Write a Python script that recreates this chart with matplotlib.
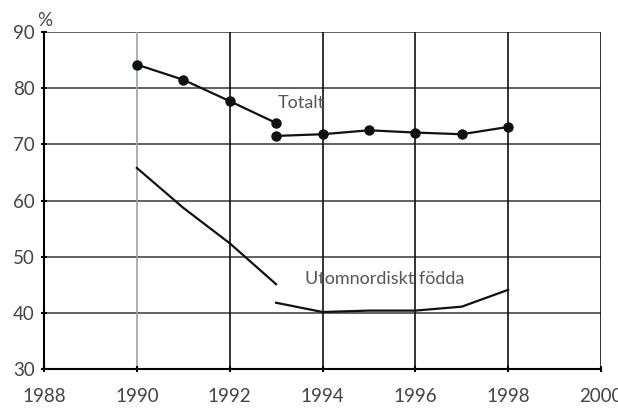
import numpy as np
import matplotlib.pyplot as plt

# data (series break at 1993)
years_a = [1990, 1991, 1992, 1993]
years_b = [1993, 1994, 1995, 1996, 1997, 1998]
totalt_a = [84.2, 81.5, 77.7, 73.8]
totalt_b = [71.5, 71.8, 72.5, 72.1, 71.8, 73.1]
utom_a = [65.8, 58.7, 52.4, 45.1]
utom_b = [41.8, 40.15, 40.4, 40.4, 41.1, 44.1]
xticks = [1988, 1990, 1992, 1994, 1996, 1998, 2000]
yticks = [30, 40, 50, 60, 70, 80, 90]

plt.rcParams['font.family'] = ['Lato', 'DejaVu Sans']
txt = '#444444'

fig = plt.figure(figsize=(6.18, 4.13), dpi=100)
ax = fig.add_axes([0.0712, 0.1065, 0.9013, 0.816])

ax.set_xlim(1988, 2000)
ax.set_ylim(30, 90)
ax.set_xticks(xticks)
ax.set_yticks(yticks)
ax.tick_params(labelsize=13.5, labelcolor=txt, length=5, width=1.5, direction='inout', pad=11)
ax.tick_params(axis='y', pad=4)

# grid
for y in yticks[1:]:
    ax.axhline(y, color='#555555', lw=1.3, zorder=1)
for x in xticks[1:]:
    c = '#9aa2b0' if x == 1990 else '#111111'
    ax.axvline(x, color=c, lw=1.2, zorder=1)

for s in ['top', 'right']:
    ax.spines[s].set_visible(False)
ax.spines['left'].set_linewidth(1.5)
ax.spines['bottom'].set_linewidth(1.5)

ax.plot(years_a, totalt_a, color='#111111', lw=1.6, marker='o', ms=6.5, zorder=3)
ax.plot(years_b, totalt_b, color='#111111', lw=1.6, marker='o', ms=6.5, zorder=3)
ax.plot(years_a, utom_a, color='#111111', lw=1.6, zorder=3)
ax.plot(years_b, utom_b, color='#111111', lw=1.6, zorder=3)

ax.text(1993.03, 77.4, 'Totalt', fontsize=13, color='#555555', va='center', ha='left')
ax.text(1993.63, 46.0, 'Utomnordiskt födda', fontsize=13, color='#555555', va='center', ha='left')
ax.text(-0.012, 1.01, '%', transform=ax.transAxes, fontsize=13.5, color=txt, ha='left', va='bottom')

fig.savefig('out.png', dpi=100)
